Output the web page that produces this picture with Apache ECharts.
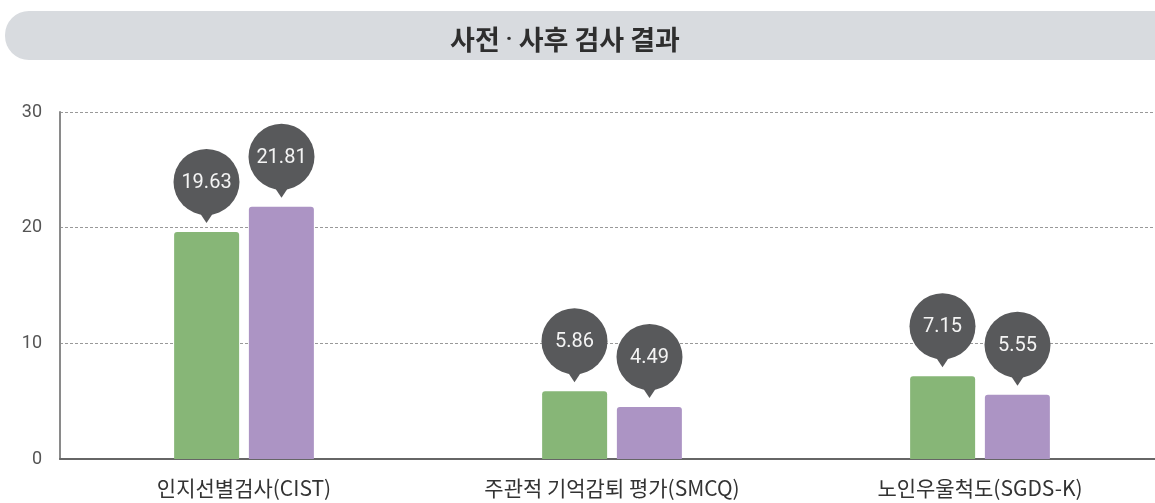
<!DOCTYPE html>
<html>
<head>
<meta charset="utf-8">
<script src="https://cdn.jsdelivr.net/npm/echarts@6/dist/echarts.min.js"></script>
<style>
  html, body { margin: 0; padding: 0; background: #fff; }
  #main { width: 1155px; height: 503px; }
</style>
</head>
<body>
<div id="main"></div>
<script>
// 검사 항목
var categories = ['인지선별검사(CIST)', '주관적 기억감퇴 평가(SMCQ)', '노인우울척도(SGDS-K)'];
// 사전 / 사후 점수
var preValues = [19.63, 5.86, 7.15];
var postValues = [21.81, 4.49, 5.55];
var yTicks = [0, 10, 20, 30];

var GREEN = '#87b677';
var PURPLE = '#ac94c4';
var PIN = '#58595b';

var myChart = echarts.init(document.getElementById('main'));

// 말풍선 모양 라벨 (막대 위)
function balloon(offset) {
    return function (params, api) {
        var p = api.coord([api.value(0), api.value(1)]);
        var x = p[0] + offset;
        var top = p[1];
        var cy = top - 50;
        return {
            type: 'group',
            children: [
                {type: 'polygon', shape: {points: [[x - 10, cy + 26], [x + 10, cy + 26], [x, top - 9]]}, style: {fill: PIN}},
                {type: 'circle', shape: {cx: x, cy: cy, r: 33}, style: {fill: PIN}},
                {type: 'text', style: {
                    text: api.value(1).toFixed(2), x: x, y: cy + 1,
                    align: 'center', verticalAlign: 'middle',
                    fill: '#f4f4f4', font: '20px Roboto'
                }}
            ]
        };
    };
}

function toPairs(arr) {
    var out = [];
    for (var i = 0; i < arr.length; i++) {
        out.push([i, arr[i]]);
    }
    return out;
}

myChart.setOption({
    animation: false,
    title: {
        text: '사전 {d|·} 사후 검사 결과',
        left: 560,
        top: 35,
        textAlign: 'center',
        textVerticalAlign: 'middle',
        textStyle: {
            fontFamily: 'Noto Sans CJK KR', fontSize: 27, fontWeight: 'bold', color: '#2e2e2e',
            rich: {d: {fontFamily: 'Roboto', fontSize: 22, fontWeight: 'bold', color: '#2e2e2e'}}
        }
    },
    graphic: [
        {
            type: 'rect', z: -1,
            shape: {x: 5, y: 11, width: 1175, height: 49, r: 24},
            style: {fill: '#d8dbdf'}
        }
    ],
    grid: {left: 60, top: 112, bottom: 44, width: 1104, outerBoundsMode: 'none'},
    xAxis: {
        type: 'category',
        data: categories,
        axisTick: {show: false},
        axisLine: {lineStyle: {color: '#666', width: 2}},
        axisLabel: {
            margin: 19, fontSize: 21, color: '#333',
            fontFamily: 'Noto Sans CJK KR'
        }
    },
    yAxis: {
        type: 'value',
        min: yTicks[0],
        max: yTicks[yTicks.length - 1],
        interval: 10,
        axisLine: {show: true, lineStyle: {color: '#8a8a8a', width: 2}},
        axisTick: {show: false},
        axisLabel: {margin: 18, fontSize: 18, color: '#555', fontFamily: 'Roboto'},
        splitLine: {lineStyle: {color: '#999', type: [3, 2], width: 1}}
    },
    series: [
        {
            name: '사전',
            type: 'bar',
            barWidth: 65,
            barGap: '15%',
            itemStyle: {color: GREEN, borderRadius: [3, 3, 0, 0]},
            data: preValues
        },
        {
            name: '사후',
            type: 'bar',
            barWidth: 65,
            itemStyle: {color: PURPLE, borderRadius: [3, 3, 0, 0]},
            data: postValues
        },
        {
            type: 'custom',
            renderItem: balloon(-37.5),
            encode: {x: 0, y: 1},
            clip: false,
            z: 5,
            data: toPairs(preValues)
        },
        {
            type: 'custom',
            renderItem: balloon(37.5),
            encode: {x: 0, y: 1},
            clip: false,
            z: 5,
            data: toPairs(postValues)
        }
    ]
});
</script>
</body>
</html>
